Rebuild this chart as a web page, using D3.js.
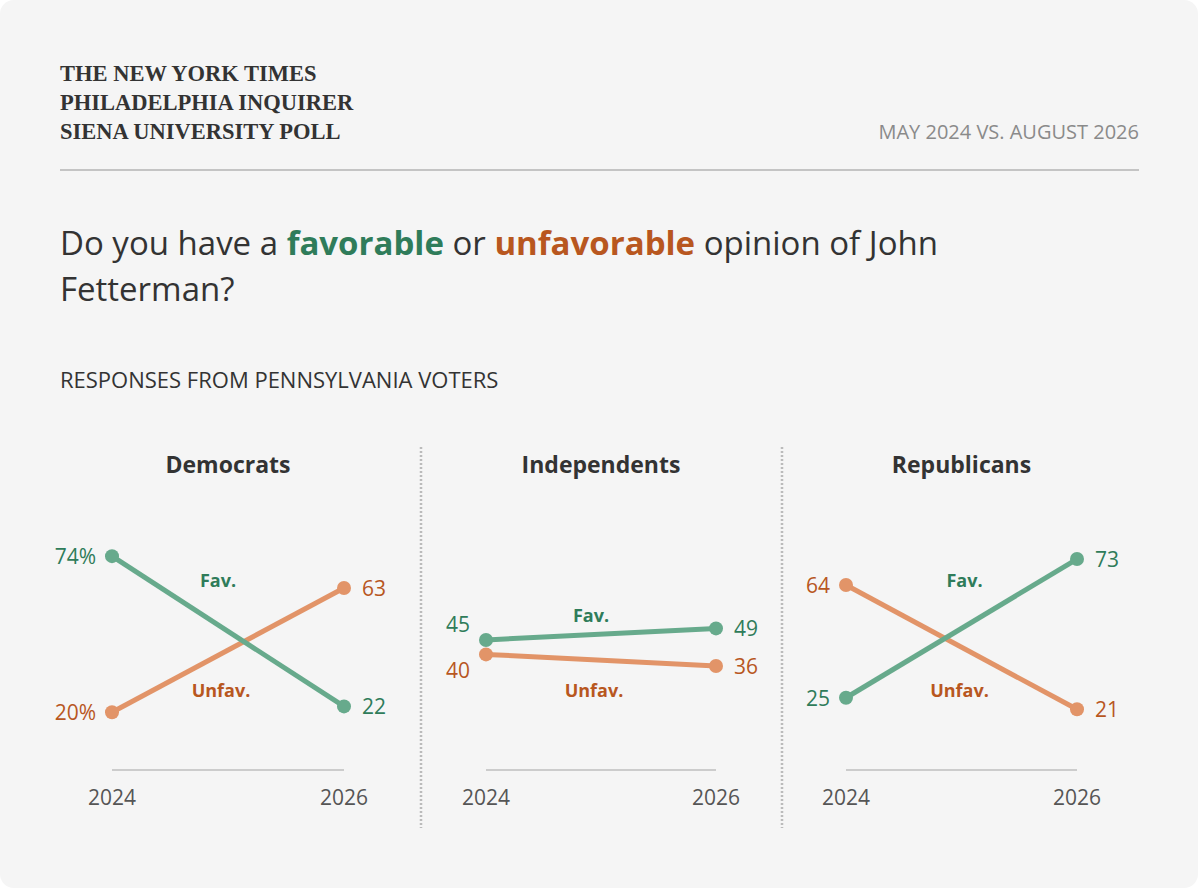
<!DOCTYPE html>
<html><head><meta charset="utf-8">
<script src="https://cdn.jsdelivr.net/npm/d3@7"></script>
<style>body{margin:0;background:#fff}</style></head>
<body><svg id="c" width="1198" height="888"></svg>
<script>
const groups = ["Democrats","Independents","Republicans"];
const years = ["2024","2026"];
const fav = [[74,22],[45,49],[25,73]];
const unfav = [[20,63],[40,36],[64,21]];
const GREEN="#67aa8c", GREENT="#2f7c5a", ORANGE="#e29468", ORANGET="#b8571f";
const svg=d3.select("#c");
svg.append("rect").attr("width",1198).attr("height",888).attr("rx",14).attr("fill","#f5f5f5");
const serif="'Liberation Serif','DejaVu Serif',serif", sans="'Open Sans','Liberation Sans',sans-serif";
["THE NEW YORK TIMES","PHILADELPHIA INQUIRER","SIENA UNIVERSITY POLL"].forEach((t,i)=>
 svg.append("text").attr("x",60).attr("y",81+i*29).text(t).attr("font-family",serif).attr("font-weight","bold").attr("font-size",22.5).attr("fill","#333"));
svg.append("text").attr("x",1139).attr("y",139).attr("text-anchor","end").text("MAY 2024 VS. AUGUST 2026").attr("font-family",sans).attr("font-size",20).attr("fill","#8a8a8a");
svg.append("line").attr("x1",60).attr("x2",1139).attr("y1",170).attr("y2",170).attr("stroke","#c4c4c4").attr("stroke-width",2);
const q=svg.append("text").attr("font-family",sans).attr("font-size",33).attr("fill","#333");
const l1=q.append("tspan").attr("x",60).attr("y",255);
l1.append("tspan").text("Do you have a ");
l1.append("tspan").text("favorable").attr("fill",GREENT).attr("font-weight","bold");
l1.append("tspan").text(" or ");
l1.append("tspan").text("unfavorable").attr("fill",ORANGET).attr("font-weight","bold");
l1.append("tspan").text(" opinion of John");
q.append("tspan").attr("x",60).attr("y",301).text("Fetterman?");
svg.append("text").attr("x",60).attr("y",388).text("RESPONSES FROM PENNSYLVANIA VOTERS").attr("font-family",sans).attr("font-size",22).attr("fill","#333");
const y=d3.scaleLinear().domain([0,100]).range([770,481]);
const panels=[[112,344],[486,716],[846,1077]];
[421,782].forEach(x=>svg.append("line").attr("x1",x).attr("x2",x).attr("y1",447).attr("y2",828).attr("stroke","#bbb").attr("stroke-width",2.5).attr("stroke-dasharray","2,2"));
groups.forEach((g,i)=>{
 const x=d3.scalePoint().domain(years).range(panels[i]);
 const gp=svg.append("g");
 const cx=(panels[i][0]+panels[i][1])/2;
 gp.append("text").attr("x",cx).attr("y",473).attr("text-anchor","middle").text(g).attr("font-family",sans).attr("font-weight","bold").attr("font-size",23).attr("fill","#333");
 gp.append("line").attr("x1",panels[i][0]).attr("x2",panels[i][1]).attr("y1",y(0)).attr("y2",y(0)).attr("stroke","#ccc").attr("stroke-width",2);
 years.forEach(yr=>gp.append("text").attr("x",x(yr)).attr("y",805).attr("text-anchor","middle").text(yr).attr("font-family",sans).attr("font-size",21).attr("fill","#555"));
 const line=d3.line().x((d,j)=>x(years[j])).y(d=>y(d));
 [[unfav[i],ORANGE,ORANGET,1],[fav[i],GREEN,GREENT,-1]].forEach(([vals,c,ct,dir])=>{
  gp.append("path").attr("d",line(vals)).attr("stroke",c).attr("stroke-width",5).attr("fill","none");
  vals.forEach((v,j)=>{
   gp.append("circle").attr("cx",x(years[j])).attr("cy",y(v)).attr("r",7).attr("fill",c);
   const dy = (i===1&&j===0) ? dir*16 : 0;
   gp.append("text").attr("x",x(years[j])+(j?18:-16)).attr("y",y(v)+8+dy).attr("text-anchor",j?"start":"end")
     .text(v+(i===0&&j===0?"%":"")).attr("font-family",sans).attr("font-size",21).attr("fill",ct);
  });
 });
 const fy = i===1 ? y(Math.max(...fav[i]))-6 : 587;
 const uy = 697;
 gp.append("text").attr("x",cx-10+(i===2?13:0)).attr("y",fy).attr("text-anchor","middle").text("Fav.").attr("font-family",sans).attr("font-weight","bold").attr("font-size",18).attr("fill",GREENT);
 gp.append("text").attr("x",cx-7+(i===2?5:0)).attr("y",uy).attr("text-anchor","middle").text("Unfav.").attr("font-family",sans).attr("font-weight","bold").attr("font-size",18).attr("fill",ORANGET);
});
</script></body></html>
